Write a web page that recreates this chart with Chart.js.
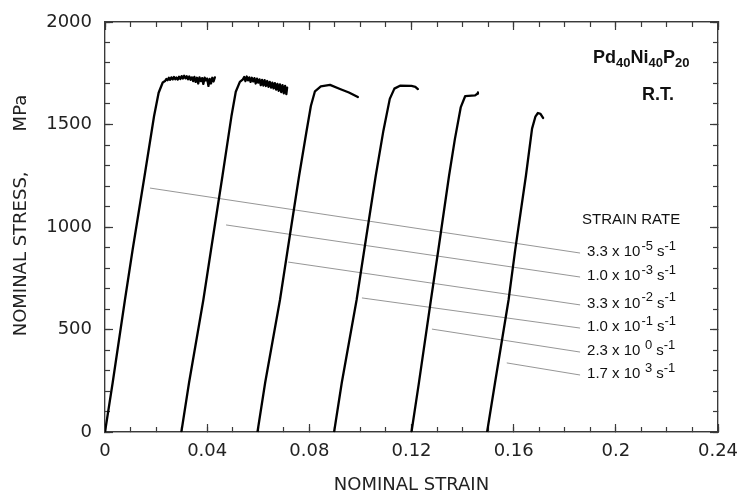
<!DOCTYPE html>
<html lang="en">
<head>
<meta charset="UTF-8">
<title>Pd40Ni40P20 nominal stress vs strain</title>
<script src="https://cdn.jsdelivr.net/npm/chart.js"></script>
<style>
  html, body { margin: 0; padding: 0; background: #fff; overflow: hidden; }
  canvas { display: block; }
</style>
</head>
<body>
<canvas id="chart" width="742" height="498"></canvas>
<script>
// [strain, stress MPa], one curve per strain rate
const curve1 = [
  [0, 0], [0.003, 240], [0.0078, 644], [0.0108, 888], [0.0155, 1250], [0.0192, 1540], [0.0210, 1655], [0.0226, 1705],
  [0.0235, 1712], [0.024, 1722], [0.0245, 1716], [0.025, 1728], [0.0255, 1718], [0.026, 1730], [0.0265, 1720],
  [0.027, 1732], [0.0275, 1721], [0.028, 1729], [0.0285, 1719], [0.029, 1733], [0.0295, 1722], [0.030, 1736],
  [0.0305, 1724], [0.031, 1738], [0.0315, 1725], [0.032, 1735], [0.0325, 1720], [0.033, 1734], [0.0335, 1718],
  [0.034, 1730], [0.0345, 1712], [0.035, 1732], [0.0355, 1708], [0.036, 1728], [0.0365, 1700], [0.037, 1730],
  [0.0375, 1712], [0.038, 1726], [0.0385, 1698], [0.039, 1729], [0.0395, 1715], [0.040, 1724], [0.0405, 1688],
  [0.041, 1722], [0.0415, 1700], [0.042, 1728], [0.0425, 1710], [0.043, 1730]
];
const curve2 = [
  [0.0299, 0], [0.0329, 240], [0.0385, 644], [0.0415, 888], [0.046, 1250], [0.0495, 1540], [0.0512, 1660], [0.0528, 1708],
  [0.054, 1720], [0.0545, 1732], [0.055, 1712], [0.0555, 1734], [0.056, 1715], [0.0565, 1730], [0.057, 1708],
  [0.0575, 1728], [0.058, 1710], [0.0585, 1726], [0.059, 1700], [0.0595, 1724], [0.060, 1704], [0.0605, 1720],
  [0.061, 1692], [0.0615, 1718], [0.062, 1690], [0.0625, 1716], [0.063, 1688], [0.0635, 1712], [0.064, 1684],
  [0.0645, 1708], [0.065, 1680], [0.0655, 1704], [0.066, 1676], [0.0665, 1702], [0.067, 1670], [0.0675, 1698],
  [0.068, 1664], [0.0685, 1696], [0.069, 1658], [0.0695, 1692], [0.070, 1652], [0.0705, 1688], [0.071, 1648],
  [0.0713, 1680]
];
const curve3 = [
  [0.0597, 0], [0.0627, 240], [0.0685, 644], [0.0715, 888], [0.076, 1250], [0.0788, 1460], [0.0806, 1590],
  [0.0822, 1662], [0.0845, 1686], [0.0881, 1693], [0.092, 1673], [0.0955, 1656], [0.099, 1634]
];
const curve4 = [
  [0.0897, 0], [0.0927, 240], [0.0985, 644], [0.1015, 888], [0.106, 1250], [0.109, 1470], [0.1115, 1625],
  [0.1133, 1675], [0.1155, 1689], [0.120, 1688], [0.1215, 1684], [0.1225, 1673]
];
const curve5 = [
  [0.120, 0], [0.1229, 240], [0.1276, 644], [0.1305, 888], [0.1347, 1250], [0.137, 1430], [0.1393, 1585],
  [0.141, 1638], [0.1449, 1642], [0.1458, 1650], [0.146, 1656]
];
const curve6 = [
  [0.1496, 0], [0.1527, 240], [0.158, 644], [0.1606, 888], [0.1648, 1250], [0.1672, 1480], [0.1685, 1538],
  [0.1695, 1556], [0.1705, 1552], [0.1715, 1532]
];
const curves = [curve1, curve2, curve3, curve4, curve5, curve6];

// leader lines from each curve to its strain-rate label
const leaderFrom = [[0.0176, 1190], [0.0474, 1010], [0.0717, 829], [0.1006, 654], [0.128, 502], [0.1573, 337]];
const leaderTo = [[0.186, 873], [0.186, 756], [0.186, 620], [0.186, 507], [0.186, 390], [0.186, 278]];

const rateMantissa = ['3.3', '1.0', '3.3', '1.0', '2.3', '1.7'];
const rateExponent = ['-5', '-3', '-2', '-1', ' 0', ' 3'];

const xMin = 0, xMax = 0.24, xMajor = 0.04, xMinor = 0.01;
const yMin = 0, yMax = 2000, yMajor = 500, yMinor = 100;

const INK = '#3a3a3a';
const tickFont = { family: 'DejaVu Sans', size: 18 };

function edgeAxis(position, step, len, opts) {
  opts = opts || {};
  const horizontal = position === 'top' || position === 'bottom';
  return {
    type: 'linear',
    axis: horizontal ? 'x' : 'y',
    position: position,
    min: horizontal ? xMin : yMin,
    max: horizontal ? xMax : yMax,
    weight: opts.weight || 0,
    grid: { drawOnChartArea: false, drawTicks: true, tickLength: -len, tickColor: INK, tickWidth: 1.2 },
    border: { display: true, color: INK, width: 1.2 },
    ticks: {
      display: !!opts.labels,
      stepSize: step,
      padding: opts.padding || 0,
      color: '#222',
      font: tickFont,
      maxRotation: 0,
      autoSkip: false,
      callback: v => String(+v.toFixed(2))
    },
    title: opts.title || { display: false },
    afterFit: s => {
      const size = opts.size || 0;
      if (horizontal) s.height = size; else s.width = size;
      // keep the layout from reserving extra room for edge labels
      s.paddingLeft = s.paddingRight = s.paddingTop = s.paddingBottom = 0;
    }
  };
}

const datasets = curves.map(c => ({
  data: c.map(p => ({ x: p[0], y: p[1] })),
  borderColor: '#000',
  borderWidth: 2.3,
  borderJoinStyle: 'round',
  borderCapStyle: 'round',
  pointRadius: 0,
  tension: 0,
  fill: false
}));
leaderFrom.forEach((p, i) => {
  datasets.push({
    data: [{ x: p[0], y: p[1] }, { x: leaderTo[i][0], y: leaderTo[i][1] }],
    borderColor: '#8a8a8a',
    borderWidth: 0.9,
    pointRadius: 0,
    fill: false
  });
});

function drawRuns(ctx, x, y, runs) {
  runs.forEach(r => {
    ctx.font = r.font;
    ctx.fillText(r.t, x, y + (r.dy || 0));
    x += ctx.measureText(r.t).width + (r.gap || 0);
  });
}

const notes = {
  id: 'notes',
  afterDatasetsDraw(chart) {
    const { ctx, chartArea, scales } = chart;
    const sx = scales.x, sy = scales.y;
    ctx.save();
    ctx.fillStyle = '#111';
    ctx.textAlign = 'left';

    ctx.textBaseline = 'alphabetic';
    const big = 'bold 18px "Liberation Sans"', sub = 'bold 13px "Liberation Sans"';
    drawRuns(ctx, chartArea.right - 125, chartArea.top + 41, [
      { t: 'Pd', font: big }, { t: '40', font: sub, dy: 4 },
      { t: 'Ni', font: big }, { t: '40', font: sub, dy: 4 },
      { t: 'P', font: big }, { t: '20', font: sub, dy: 4 }
    ]);
    ctx.font = big;
    ctx.fillText('R.T.', chartArea.right - 76, chartArea.top + 78);

    ctx.textBaseline = 'middle';
    const lx = sx.getPixelForValue(leaderTo[0][0]);
    ctx.font = '15px "Liberation Sans"';
    ctx.fillText('STRAIN RATE', lx + 2, sy.getPixelForValue(leaderTo[0][1]) - 33);

    const main = '15px "Liberation Sans"', sup = '13px "Liberation Sans"';
    rateMantissa.forEach((m, i) => {
      const py = sy.getPixelForValue(leaderTo[i][1]) - 1;
      drawRuns(ctx, lx + 7, py, [
        { t: m + ' x 10', font: main, gap: 1 },
        { t: rateExponent[i], font: sup, dy: -6, gap: 4 },
        { t: 's', font: main },
        { t: '-1', font: sup, dy: -6 }
      ]);
    });
    ctx.restore();
  }
};

new Chart(document.getElementById('chart'), {
  type: 'scatter',
  data: { datasets: datasets },
  options: {
    responsive: false,
    animation: false,
    showLine: true,
    layout: { padding: { left: 0, top: 22, right: 24, bottom: 0 } },
    plugins: { legend: { display: false }, tooltip: { enabled: false } },
    scales: {
      x: edgeAxis('bottom', xMajor, 8, {
        labels: true, weight: 1, size: 66, padding: 17,
        title: { display: true, text: 'NOMINAL STRAIN', color: '#222', font: tickFont, padding: { top: 0, bottom: 2 } }
      }),
      xMinorBottom: edgeAxis('bottom', xMinor, 5),
      xTop: edgeAxis('top', xMajor, 8),
      xMinorTop: edgeAxis('top', xMinor, 5),
      y: edgeAxis('left', yMajor, 8, {
        labels: true, weight: 1, size: 105, padding: 21,
        title: { display: true, text: '    NOMINAL STRESS,       MPa', color: '#222', font: tickFont, padding: { top: 11, bottom: 0 } }
      }),
      yMinorLeft: edgeAxis('left', yMinor, 5),
      yRight: edgeAxis('right', yMajor, 8),
      yMinorRight: edgeAxis('right', yMinor, 5)
    }
  },
  plugins: [notes]
});
</script>
</body>
</html>
